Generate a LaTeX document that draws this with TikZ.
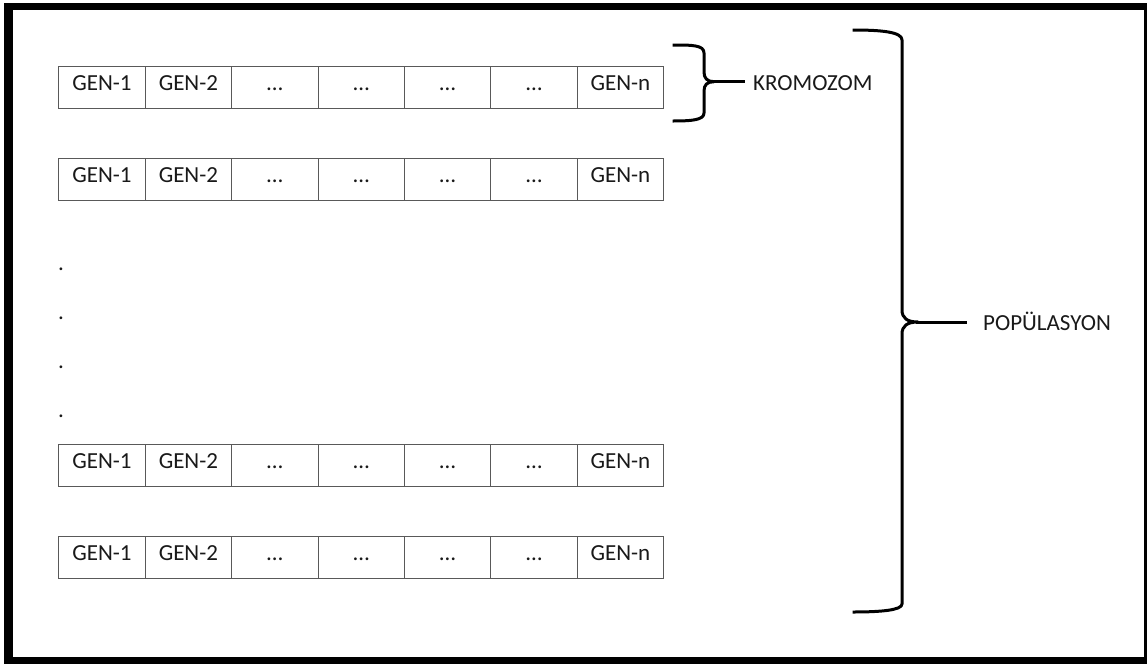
\documentclass[tikz,border=0pt]{standalone}
\usepackage{fontspec}
\setmainfont{Carlito}
\begin{document}
\begin{tikzpicture}[x=1pt,y=-1pt,
  every node/.style={font=\fontsize{23}{27}\selectfont, text=black!90},
  cell/.style={draw=black!65, line width=1, minimum width=86.4, minimum height=42,
    inner xsep=0, inner ysep=0, text height=24, text depth=18, anchor=north west},
  lbl/.style={anchor=base west, inner ysep=0},
  dotlbl/.style={anchor=base, inner sep=0},
  brace/.style={line width=3, line join=round},
  conn/.style={line width=3}]
\useasboundingbox (0,0) rectangle (1147,664);
% frame
\fill[black] (4,3) rectangle (1147,664);
\fill[white] (13,10) rectangle (1144,657);
% rows
\foreach \r/\top in {1/66,2/158,3/444,4/536}{
  \foreach \c/\t in {1/GEN-1,2/GEN-2,3/…,4/…,5/…,6/…,7/GEN-n}{
    \node[cell] (r\r c\c) at ({58.3+(\c-1)*86.4},\top) {\t};
  }
}
% vertical dots
\node[dotlbl] (d1) at (61,270.7) {.};
\node[dotlbl] (d2) at (61,319.4) {.};
\node[dotlbl] (d3) at (61,368.4) {.};
\node[dotlbl] (d4) at (61,417.1) {.};
% labels
\node[lbl, inner xsep=8] (krom) at (745,90) {KROMOZOM};
\node[lbl, inner xsep=16] (pop) at (967,330) {POPÜLASYON};
% small brace
\draw[brace] (672.7,45) .. controls (692,45) and (704,45) .. (704,53) -- (704,72)
  .. controls (704,78) and (707,81.7) .. (714,81.7)
  .. controls (707,81.7) and (704,85) .. (704,91) -- (704,113)
  .. controls (704,120) and (692,121) .. (672.7,121);
\coordinate (ktip) at (712,81.7);
\draw[conn] (ktip) -- (ktip -| krom.west);
% large brace
\draw[brace] (852.7,30) .. controls (882,30) and (902,32) .. (902,40) -- (902,310)
  .. controls (902,318) and (907,322) .. (918,322)
  .. controls (907,322) and (902,326) .. (902,334) -- (902,604)
  .. controls (902,610) and (882,612) .. (852.7,612);
\coordinate (ptip) at (916,322);
\draw[conn] (ptip) -- (ptip -| pop.west);
\end{tikzpicture}
\end{document}
